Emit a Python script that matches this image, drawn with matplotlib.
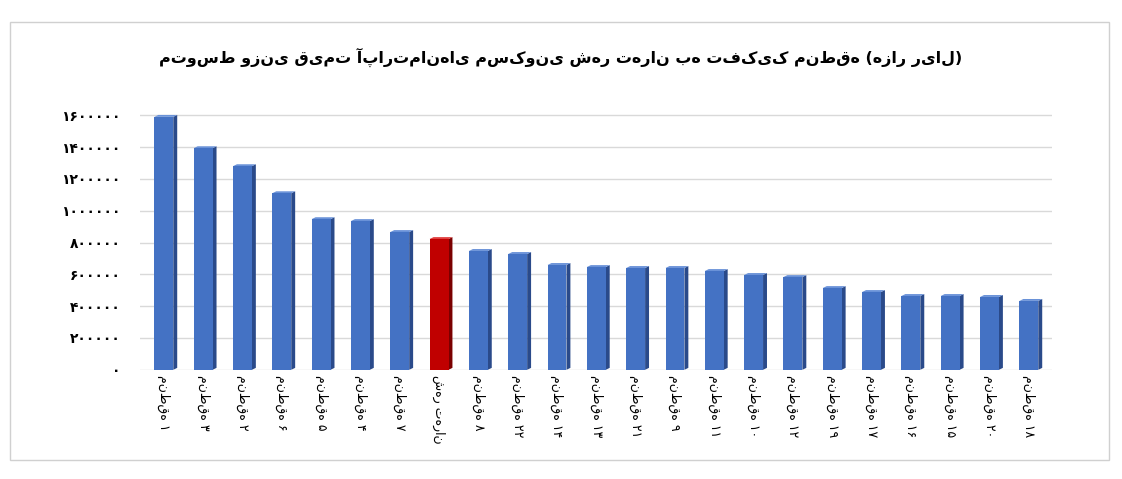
import matplotlib
matplotlib.use("Agg")
import matplotlib.pyplot as plt
from matplotlib.patches import Polygon, Rectangle

categories = ["منطقه ۱","منطقه ۳","منطقه ۲","منطقه ۶","منطقه ۵","منطقه ۴","منطقه ۷","شهر تهران",
              "منطقه ۸","منطقه ۲۲","منطقه ۱۴","منطقه ۱۳","منطقه ۲۱","منطقه ۹","منطقه ۱۱","منطقه ۱۰",
              "منطقه ۱۲","منطقه ۱۹","منطقه ۱۷","منطقه ۱۶","منطقه ۱۵","منطقه ۲۰","منطقه ۱۸"]
values = [1590000,1393000,1280000,1110000,947000,935000,866000,822000,747000,728000,659000,646000,
          640000,640000,621000,596000,583000,514000,489000,464000,464000,458000,433000]
yticks = [0,200000,400000,600000,800000,1000000,1200000,1400000,1600000]
fa = str.maketrans("0123456789","۰۱۲۳۴۵۶۷۸۹")
ytick_labels = [str(v).translate(fa) for v in yticks]
title = "متوسط وزنی قیمت آپارتمان‌های مسکونی شهر تهران به تفکیک منطقه (هزار ریال)"

plt.rcParams['font.family'] = ['DejaVu Sans']
fig = plt.figure(figsize=(11.22,4.79), dpi=100)
fig.patches.append(Rectangle((0.009,0.04),0.979,0.915,transform=fig.transFigure,fill=False,ec="#d0d0d0",lw=1))
ax = fig.add_axes([0.125,0.228,0.813,0.548])
w = 0.48
dx, dy = 0.1, 12000
for i,(c,v) in enumerate(zip(categories,values)):
    red = c == "شهر تهران"
    front = "#c00000" if red else "#4472c4"
    side = "#7a0000" if red else "#2a4a8a"
    top = "#e04040" if red else "#6a92d8"
    ax.add_patch(Polygon([(i+w/2,0),(i+w/2+dx,dy),(i+w/2+dx,v+dy),(i+w/2,v)],fc=side,ec="none",zorder=3))
    ax.add_patch(Polygon([(i-w/2,v),(i-w/2+dx,v+dy),(i+w/2+dx,v+dy),(i+w/2,v)],fc=top,ec="none",zorder=3))
    ax.bar(i,v,width=w,color=front,zorder=3)
ax.set_xlim(-0.6,len(categories)-0.4)
ax.set_ylim(0,1650000)
ax.set_yticks(yticks)
ax.set_yticklabels(ytick_labels,fontsize=10,fontweight="bold")
ax.tick_params(axis="y",pad=14)
ax.set_xticks(range(len(categories)))
ax.set_xticklabels(categories,rotation=270,fontsize=9)
ax.grid(axis="y",color="#d9d9d9",lw=1,zorder=0)
for s in ax.spines.values(): s.set_visible(False)
ax.tick_params(length=0)
fig.text(0.5,0.88,title,ha="center",va="center",fontsize=11.5,fontweight="bold")
fig.savefig("out.png",dpi=100)
